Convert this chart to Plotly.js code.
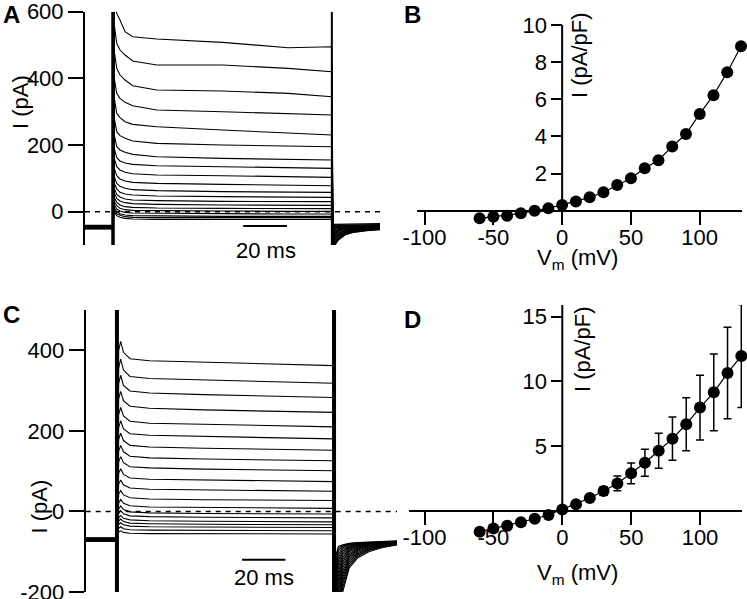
<!DOCTYPE html>
<html>
<head>
<meta charset="utf-8">
<script src="https://cdn.plot.ly/plotly-3.0.1.min.js"></script>
<style>html,body{margin:0;padding:0;background:#fff}#chart{width:747px;height:599px}</style>
</head>
<body>
<div id="chart"></div>
<script>
// ---------- Panel A : whole-cell current traces (pA) ----------
const aHoldTimes = [-12.8, -0.1];
const aHold = [-52,-51,-50,-50,-49,-48,-48,-47,-47,-46,-46,-45,-45,-44,-44,-43,-43,-42,-42,-41];
const aTimes = [0.6, 1.7, 3.2, 5.5, 9, 20, 50, 80, 100];
const aTraces = [
  [640, 595, 575, 540, 525, 518, 508, 492, 495],
  [560, 505, 485, 470, 452, 440, 440, 430, 420],
  [480, 430, 410, 395, 378, 365, 362, 355, 345],
  [400, 355, 340, 328, 318, 305, 300, 295, 290],
  [340, 295, 282, 270, 262, 255, 245, 235, 230],
  [280, 240, 228, 220, 212, 205, 200, 198, 195],
  [230, 195, 185, 178, 172, 165, 160, 157, 155],
  [190, 162, 152, 146, 142, 138, 135, 132, 130],
  [160, 135, 125, 118, 114, 110, 108, 105, 103],
  [130, 108, 98, 92, 88, 85, 82, 80, 78],
  [105, 85, 76, 70, 66, 63, 60, 59, 58],
  [85, 68, 58, 53, 50, 47, 45, 44, 43],
  [70, 52, 44, 38, 35, 33, 31, 30, 30],
  [55, 40, 32, 27, 24, 22, 20, 19, 19],
  [42, 28, 20, 15, 13, 11, 10, 9, 9],
  [30, 18, 10, 6, 4, 3, 2, 1, 1],
  [20, 8, 2, -2, -4, -5, -6, -7, -7],
  [10, 0, -6, -10, -12, -13, -14, -14, -14],
  [5, -6, -11, -15, -17, -18, -18, -18, -18],
  [0, -12, -17, -20, -22, -23, -23, -23, -23]
];
const aTailTimes = [100.6, 101.5, 103, 106, 110, 116, 122];
const aTails = [
  [-130, -100, -85, -70, -62, -57, -54],
  [-125, -96, -82, -68, -61, -56, -53],
  [-120, -92, -79, -66, -59, -55, -52],
  [-115, -88, -76, -64, -58, -54, -52],
  [-110, -84, -73, -62, -57, -53, -51],
  [-105, -80, -70, -60, -55, -52, -50],
  [-100, -76, -67, -58, -54, -51, -50],
  [-95, -72, -64, -57, -53, -50, -49],
  [-90, -68, -61, -55, -52, -50, -48],
  [-85, -65, -58, -53, -50, -49, -48],
  [-80, -62, -56, -52, -49, -48, -47],
  [-75, -59, -54, -50, -48, -47, -46],
  [-70, -56, -52, -49, -47, -46, -45],
  [-65, -53, -50, -47, -46, -45, -44],
  [-60, -50, -48, -46, -45, -44, -43],
  [-55, -48, -46, -45, -44, -43, -42],
  [-50, -46, -44, -43, -42, -42, -41],
  [-46, -44, -42, -42, -41, -41, -40],
  [-42, -41, -40, -40, -40, -39, -39],
  [-38, -38, -37, -37, -37, -37, -36]
];
const aPulseEdges = [0, 100];
const aTransientExtent = [-100, 600];
const aScaleBar = {t0: 59.5, ms: 20, y: -43};

// ---------- Panel C : whole-cell current traces (pA) ----------
const cHoldTimes = [-14.4, -0.1];
const cHold = [-74,-73.5,-73,-72.5,-72,-71.5,-71,-70.5,-70,-70,-69.5,-69,-69,-68.5,-68,-67.5,-67,-66.5,-66,-66];
const cTimes = [0.8, 1.7, 3, 6, 15, 40, 100];
const cTraces = [
  [400, 422, 395, 379, 374, 370, 362],
  [356, 378, 351, 335, 330, 326, 318],
  [318, 338, 313, 299, 294, 290, 283],
  [280, 298, 275, 261, 256, 252, 246],
  [241, 258, 237, 224, 219, 216, 210],
  [209, 225, 205, 193, 189, 186, 180],
  [179, 194, 176, 164, 160, 157, 152],
  [150, 164, 148, 137, 133, 130, 126],
  [123, 136, 121, 111, 108, 105, 101],
  [94, 106, 92, 83, 80, 78, 74],
  [68, 78, 66, 58, 55, 53, 50],
  [43, 52, 41, 34, 31, 29, 27],
  [21, 29.5, 20, 14, 11, 9.5, 7.5],
  [6, 13.5, 4.5, -1, -3.5, -5, -6.5],
  [-5, 2, -6, -11, -13, -14.5, -16],
  [-16, -10, -17, -21, -23, -24.5, -26],
  [-24, -19, -25, -29, -30.5, -32, -33],
  [-32, -28, -33, -36.5, -38, -39, -40],
  [-42, -38, -43, -45.5, -46.5, -47, -48],
  [-51, -48, -52, -54, -55, -55.5, -56]
];
const cTailTimes = [100.8, 102, 104, 107, 111, 116, 122, 129];
const cTails = [
  [-300, -260, -200, -140, -115, -100, -90, -83],
  [-290, -250, -190, -135, -111, -97, -88, -82],
  [-280, -240, -180, -130, -108, -95, -87, -81],
  [-270, -230, -172, -125, -105, -93, -86, -80],
  [-260, -220, -164, -120, -102, -91, -85, -80],
  [-250, -210, -156, -116, -99, -89, -84, -79],
  [-240, -200, -148, -112, -96, -87, -83, -79],
  [-230, -190, -140, -108, -94, -86, -82, -78],
  [-220, -180, -133, -104, -92, -85, -81, -78],
  [-210, -170, -126, -100, -90, -84, -80, -77],
  [-200, -160, -120, -97, -88, -83, -80, -77],
  [-190, -150, -114, -94, -86, -82, -79, -77],
  [-180, -140, -108, -91, -85, -81, -79, -76],
  [-170, -130, -103, -89, -84, -80, -78, -76],
  [-160, -122, -98, -87, -82, -79, -78, -76],
  [-150, -114, -94, -85, -81, -79, -77, -75],
  [-140, -106, -90, -83, -80, -78, -77, -75],
  [-130, -98, -87, -81, -79, -77, -76, -75],
  [-120, -92, -85, -80, -78, -77, -76, -74],
  [-110, -87, -83, -79, -77, -76, -75, -73]
];
const cPulseEdges = [0, 100];
const cTransientExtent = [-200, 500];
const cScaleBar = {t0: 57.6, ms: 20, y: -120};

// ---------- Panel B : I-V (pA/pF) ----------
const bV = [-60,-50,-40,-30,-20,-10,0,10,20,30,40,50,60,70,80,90,100,110,120,130];
const bI = [-0.41,-0.32,-0.27,-0.14,0,0.13,0.31,0.5,0.72,0.99,1.39,1.75,2.29,2.72,3.46,4.13,5.21,6.22,7.46,8.86];

// ---------- Panel D : mean I-V (pA/pF) ± SEM ----------
const dV = [-60,-50,-40,-30,-20,-10,0,10,20,30,40,50,60,70,80,90,100,110,120,130];
const dI = [-1.62,-1.37,-1.16,-0.9,-0.62,-0.33,0.1,0.49,0.98,1.52,2.11,2.89,3.71,4.64,5.57,6.68,7.97,9.15,10.64,11.96];
const dErr = [0.2,0.2,0.2,0.2,0.2,0.15,0.1,0.12,0.2,0.33,0.57,0.8,1.05,1.35,1.67,2.05,2.5,2.96,3.54,3.98];

// ---------- Tick labels ----------
const aTickVals = [0, 200, 400, 600];
const aTickText = ['0', '200', '400', '600'];
const cTickVals = [-200, 0, 200, 400];
const cTickText = ['-200', '0', '200', '400'];
const vTickVals = [-100, -50, 0, 50, 100];
const vTickText = ['-100', '-50', '0', '50', '100'];
const bTickVals = [2, 4, 6, 8, 10];
const dTickVals = [5, 10, 15];

// ---------- Build ----------
const FONT = 'Liberation Sans, Arial, Helvetica, sans-serif';
const FS = 22;
const W = 747, H = 599;
const px = v => v / W;
const py = v => 1 - v / H;
const traces = [];

function addRecording(holdT, hold, times, rows, tailT, tails, xa, ya) {
  rows.forEach((row, k) => {
    traces.push({
      type: 'scatter', mode: 'lines', xaxis: xa, yaxis: ya,
      x: [...holdT, ...times, ...tailT],
      y: [hold[k], hold[k], ...row, ...tails[k]],
      line: {color: '#000', width: 1.1}, hoverinfo: 'skip', showlegend: false
    });
  });
}
addRecording(aHoldTimes, aHold, aTimes, aTraces, aTailTimes, aTails, 'x', 'y');
addRecording(cHoldTimes, cHold, cTimes, cTraces, cTailTimes, cTails, 'x3', 'y3');

function addTransients(edges, extent, widths, xa, ya) {
  edges.forEach((t, i) => traces.push({
    type: 'scatter', mode: 'lines', xaxis: xa, yaxis: ya,
    x: [t, t], y: extent, line: {color: '#000', width: widths[i]},
    hoverinfo: 'skip', showlegend: false
  }));
}
addTransients(aPulseEdges, aTransientExtent, [3.5, 2], 'x', 'y');
addTransients(cPulseEdges, cTransientExtent, [4, 4], 'x3', 'y3');

traces.push({
  type: 'scatter', mode: 'lines+markers', xaxis: 'x2', yaxis: 'y2',
  x: bV, y: bI, cliponaxis: false,
  line: {color: '#000', width: 1.2}, marker: {color: '#000', size: 12},
  hoverinfo: 'skip', showlegend: false
});
traces.push({
  type: 'scatter', mode: 'lines+markers', xaxis: 'x4', yaxis: 'y4',
  x: dV, y: dI, cliponaxis: false,
  line: {color: '#000', width: 1.2}, marker: {color: '#000', size: 12},
  error_y: {type: 'data', array: dErr, visible: true, color: '#000', thickness: 1.5, width: 4},
  hoverinfo: 'skip', showlegend: false
});

const tickFont = {family: FONT, size: FS, color: '#000'};
const hiddenX = (d, r) => ({domain: d, range: r, visible: false, fixedrange: true});
const traceY = (d, r, tv, tt, anchor) => ({
  domain: d, range: r, anchor: anchor, tickvals: tv, ticktext: tt, ticks: 'outside', ticklen: 15, tickwidth: 2,
  tickcolor: '#000', showline: true, linewidth: 2, linecolor: '#000', showgrid: false,
  zeroline: false, tickfont: tickFont, fixedrange: true, ticklabeloverflow: 'allow'
});
const ivX = (d, r, pos) => ({
  domain: d, range: r, anchor: 'free', position: pos,
  tickvals: vTickVals, ticktext: vTickText, ticks: 'outside', ticklen: 13, tickwidth: 2, tickcolor: '#000',
  ticklabelstandoff: -6, ticklabeloverflow: 'allow',
  showline: true, linewidth: 2, linecolor: '#000', showgrid: false, zeroline: false, tickfont: tickFont
});
const ivY = (d, r, tv) => ({
  domain: d, range: r, anchor: 'free', position: px(562.3),
  tickvals: tv, ticks: 'outside', ticklen: 11, tickwidth: 2, tickcolor: '#000', ticklabeloverflow: 'allow',
  showline: false, showgrid: false, zeroline: false, tickfont: tickFont
});

const ann = (text, x, y, size, extra) => Object.assign({
  text: text, xref: 'paper', yref: 'paper', x: px(x), y: py(y), showarrow: false,
  font: {family: FONT, size: size, color: '#000'}, xanchor: 'center', yanchor: 'middle'
}, extra || {});

const layout = {
  width: W, height: H,
  margin: {l: 0, r: 0, t: 0, b: 0, pad: 0},
  paper_bgcolor: '#fff', plot_bgcolor: 'rgba(0,0,0,0)',
  showlegend: false,
  font: {family: FONT, color: '#000'},
  xaxis: hiddenX([px(85), px(380)], [-12.8, 122]),
  yaxis: traceY([py(245), py(11.7)], [-100, 600], aTickVals, aTickText, 'x'),
  xaxis3: hiddenX([px(85.7), px(397)], [-14.4, 129]),
  yaxis3: traceY([py(592), py(310)], [-200, 500], cTickVals, cTickText, 'x3'),
  xaxis2: ivX([px(416.7), px(741.7)], [-105.7, 130.5], py(210.7)),
  yaxis2: ivY([py(240), py(25)], [-1.578, 10.0], bTickVals),
  xaxis4: ivX([px(409), px(742)], [-111.3, 130.5], py(510.7)),
  yaxis4: ivY([py(545), py(305)], [-2.65, 15.9], dTickVals),
  shapes: [
    {type: 'line', xref: 'x domain', yref: 'y', x0: 0, x1: 1, y0: 0, y1: 0, line: {color: '#000', width: 1.5, dash: '5px,5px'}},
    {type: 'line', xref: 'x3 domain', yref: 'y3', x0: 0, x1: 1, y0: 0, y1: 0, line: {color: '#000', width: 1.5, dash: '5px,5px'}},
    {type: 'line', xref: 'x2', yref: 'y2', x0: 0, x1: 0, y0: 0, y1: 10, line: {color: '#000', width: 2}},
    {type: 'line', xref: 'x4', yref: 'y4', x0: 0, x1: 0, y0: 0, y1: 15.9, line: {color: '#000', width: 2}},
    {type: 'line', xref: 'x', yref: 'y', x0: aScaleBar.t0, x1: aScaleBar.t0 + aScaleBar.ms, y0: aScaleBar.y, y1: aScaleBar.y, line: {color: '#000', width: 2}},
    {type: 'line', xref: 'x3', yref: 'y3', x0: cScaleBar.t0, x1: cScaleBar.t0 + cScaleBar.ms, y0: cScaleBar.y, y1: cScaleBar.y, line: {color: '#000', width: 2}}
  ],
  annotations: [
    ann('<b>A</b>', 11, 14, 24),
    ann('<b>B</b>', 412, 14, 24),
    ann('<b>C</b>', 11, 314, 24),
    ann('<b>D</b>', 412, 319, 24),
    ann('I (pA)', 21, 102, FS, {textangle: -90}),
    ann('I (pA)', 39.5, 507, FS, {textangle: -90}),
    ann('I (pA/pF)', 580, 55, FS, {textangle: -90}),
    ann('I (pA/pF)', 582, 349, FS, {textangle: -90}),
    ann('V<sub>m</sub> (mV)', 577, 259, FS),
    ann('V<sub>m</sub> (mV)', 577, 574, FS),
    ann('20 ms', 265.5, 250, FS),
    ann('20 ms', 264, 577, FS)
  ]
};

Plotly.newPlot('chart', traces, layout, {staticPlot: true, displayModeBar: false});
</script>
</body>
</html>
